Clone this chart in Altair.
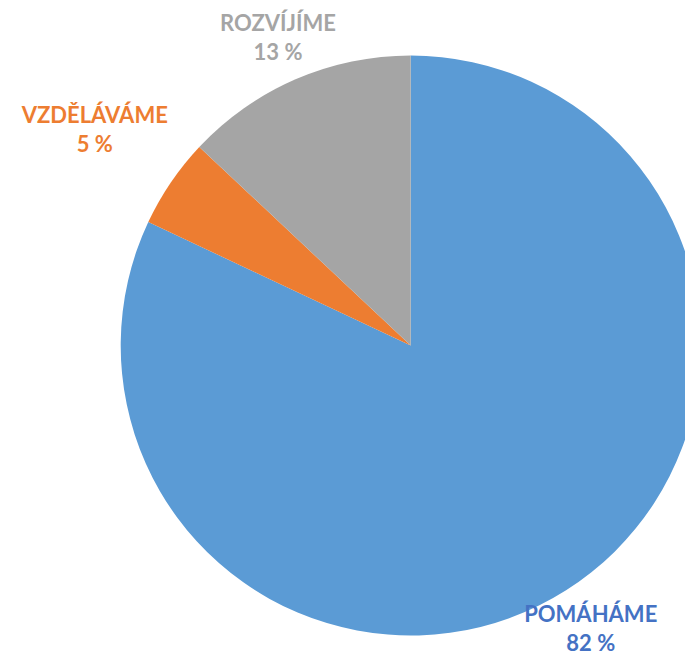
import altair as alt
import pandas as pd

# data
categories = ["POMÁHÁME", "VZDĚLÁVÁME", "ROZVÍJÍME"]
percents = [82, 5, 13]
order_idx = [0, 1, 2]

slice_colors = ["#5B9BD5", "#ED7D31", "#A5A5A5"]
label_colors = ["#4472C4", "#ED7D31", "#A5A5A5"]

# layout constants
W, H = 677, 648
CX, CY = 402.7, 337.5
R = 290
LABEL_R = {"POMÁHÁME": 336, "VZDĚLÁVÁME": 382, "ROZVÍJÍME": 334}

df = pd.DataFrame({"cat": categories, "value": percents, "ord": order_idx})

lr_expr = " : ".join(
    [f"datum.cat == '{k}' ? {v}" for k, v in LABEL_R.items()]
) + " : 340"

theta_scale = alt.Scale(domain=[0, 100])

base = alt.Chart(df)

arcs = base.mark_arc(outerRadius=R).encode(
    theta=alt.Theta("value:Q", stack=True, scale=theta_scale),
    order=alt.Order("ord:Q"),
    color=alt.Color("cat:N", scale=alt.Scale(domain=categories, range=slice_colors), legend=None),
    x=alt.value(CX),
    y=alt.value(CY),
)

labels = base.transform_window(
    cum="sum(value)", sort=[alt.SortField("ord")], frame=[None, 0]
).transform_calculate(
    mid="datum.cum - datum.value / 2",
    label="datum.cat + '\\n' + datum.value + ' %'",
    lr=lr_expr,
).mark_text(
    font="Lato",
    fontSize=22,
    fontWeight="bold",
    lineBreak="\n",
    lineHeight=29,
    align="center",
    baseline="middle",
    dy=-14.5,
).encode(
    theta=alt.Theta("mid:Q", stack=None, scale=theta_scale),
    radius=alt.Radius("lr:Q", scale=None),
    text="label:N",
    color=alt.Color("cat:N", scale=alt.Scale(domain=categories, range=label_colors), legend=None),
    x=alt.value(CX),
    y=alt.value(CY),
)

chart = alt.layer(arcs, labels).resolve_scale(color="independent").properties(
    width=W,
    height=H,
    autosize=alt.AutoSizeParams(type="none"),
    padding=0,
).configure_view(stroke=None)

chart.save("out.html", embed_options={"renderer": "svg", "actions": False})
